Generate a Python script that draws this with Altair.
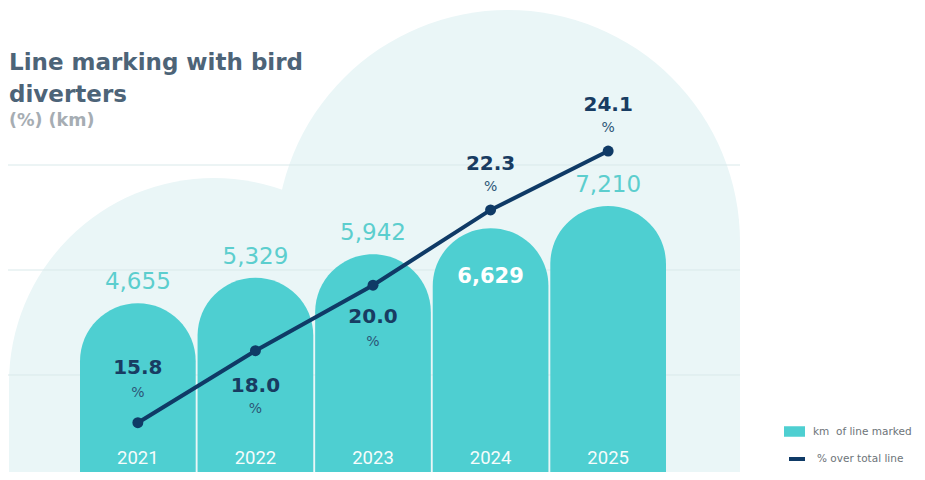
import altair as alt
import pandas as pd

# ---------------- data ----------------
years = ["2021", "2022", "2023", "2024", "2025"]
km_marked = [4655, 5329, 5942, 6629, 7210]
pct_over_total = [15.8, 18.0, 20.0, 22.3, 24.1]
km_series_name = "km\u00a0 of line marked"
pct_series_name = "% over total line"
title_line1 = "Line marking with bird"
title_line2 = "diverters"
subtitle_text = "(%) (km)"
pct_sign = "%"

# ---------------- styles ----------------
TEAL = "#4ecfd1"
KM_LABEL = "#5ccece"
NAVY = "#0f3a66"
PCT_LABEL = "#183c62"
PCT_SIGN = "#2c5576"
BG = "#eaf6f7"
GRID = "#d9e9ea"
TITLE = "#4d6478"
SUBTITLE = "#a6adb3"
LEGEND_TXT = "#6d7479"

W, H = 586, 464
KM_DOMAIN = [226, 12411]
PCT_DOMAIN = [14.293, 28.469]

km_inside_years = ["2024"]
km_outside_years = [y for y in years if y not in km_inside_years]
# vertical offsets (px) for the % labels: (number, sign)
pct_label_offsets = {
    "2021": (-55, -30),
    "2022": (35, 58),
    "2023": (32, 57),
    "2024": (-46, -23),
    "2025": (-46, -23),
}

df = pd.DataFrame({
    "year": years,
    "km": km_marked,
    "pct": pct_over_total,
    "km_series": [km_series_name] * len(years),
    "pct_series": [pct_series_name] * len(years),
})
deco = pd.DataFrame({"d": [0]})

x_enc = alt.X("year:O", scale=alt.Scale(paddingInner=0.016, paddingOuter=0), axis=None)
y_km = alt.Y("km:Q", scale=alt.Scale(domain=KM_DOMAIN, nice=False, zero=False), axis=None)
y_pct = alt.Y("pct:Q", scale=alt.Scale(domain=PCT_DOMAIN, nice=False, zero=False), axis=None)

base = alt.Chart(df)
dbase = alt.Chart(deco)

# ---------------- decorative background ----------------
bg_big = dbase.mark_circle(color=BG, opacity=1).encode(
    x=alt.value(428), y=alt.value(234), size=alt.value(464 * 464))
bg_left = dbase.mark_circle(color=BG, opacity=1).encode(
    x=alt.value(134), y=alt.value(375), size=alt.value(410 * 410))
bg_rect1 = dbase.mark_rect(color=BG).encode(
    x=alt.value(-71), x2=alt.value(660), y=alt.value(375), y2=alt.value(472))
bg_rect2 = dbase.mark_rect(color=BG).encode(
    x=alt.value(196), x2=alt.value(660), y=alt.value(234), y2=alt.value(375))
grid_layers = [
    dbase.mark_rule(color=GRID, strokeWidth=1).encode(
        x=alt.value(-72), x2=alt.value(660), y=alt.value(gy))
    for gy in (157, 262, 367)
]

# ---------------- title ----------------
t1 = dbase.mark_text(align="left", baseline="alphabetic", font="DejaVu Sans",
                     fontWeight="bold", fontSize=23, color=TITLE,
                     text=title_line1).encode(x=alt.value(-71), y=alt.value(62))
t2 = dbase.mark_text(align="left", baseline="alphabetic", font="DejaVu Sans",
                     fontWeight="bold", fontSize=23, color=TITLE,
                     text=title_line2).encode(x=alt.value(-71), y=alt.value(94))
t3 = dbase.mark_text(align="left", baseline="alphabetic", font="DejaVu Sans",
                     fontWeight="bold", fontSize=17.5, color=SUBTITLE,
                     text=subtitle_text).encode(x=alt.value(-71), y=alt.value(118))

# ---------------- bars ----------------
bars = base.mark_bar(cornerRadiusTopLeft=58, cornerRadiusTopRight=58).encode(
    x=x_enc,
    y=y_km,
    y2=alt.datum(0),
    color=alt.Color(
        "km_series:N",
        scale=alt.Scale(range=[TEAL]),
        legend=alt.Legend(
            title=None, orient="none", legendX=704, legendY=413, padding=0,
            symbolType="M-1,-0.5H1V0.5H-1Z", symbolSize=441, symbolStrokeWidth=0,
            symbolOpacity=1, labelFont="DejaVu Sans", labelFontSize=10.5,
            labelColor=LEGEND_TXT, labelOffset=8,
        ),
    ),
)

year_labels = base.mark_text(font="Roboto", fontSize=18.5, color="white",
                             baseline="middle", opacity=0.95).encode(
    x=x_enc, y=alt.value(450), text="year:N")

km_out = base.transform_filter(
    alt.FieldOneOfPredicate(field="year", oneOf=km_outside_years)
).mark_text(font="DejaVu Sans", fontSize=23, color=KM_LABEL, baseline="middle", dy=-21).encode(
    x=x_enc, y=y_km, text=alt.Text("km:Q", format=","))

km_in = base.transform_filter(
    alt.FieldOneOfPredicate(field="year", oneOf=km_inside_years)
).mark_text(font="DejaVu Sans", fontWeight="bold", fontSize=21, color="white",
            baseline="middle", dy=49).encode(
    x=x_enc, y=y_km, text=alt.Text("km:Q", format=","))

# ---------------- line ----------------
line = base.mark_line(strokeWidth=4).encode(
    x=x_enc,
    y=y_pct,
    stroke=alt.Stroke(
        "pct_series:N",
        scale=alt.Scale(range=[NAVY]),
        legend=alt.Legend(
            title=None, orient="none", legendX=707, legendY=441, padding=0,
            symbolType="stroke", symbolSize=256, symbolStrokeWidth=4,
            labelFont="DejaVu Sans", labelFontSize=10.5, labelColor=LEGEND_TXT,
            labelOffset=10,
        ),
    ),
)
points = base.mark_circle(size=120, opacity=1, color=NAVY).encode(x=x_enc, y=y_pct)

pct_layers = []
for yr, (dnum, dsign) in pct_label_offsets.items():
    sub = base.transform_filter(alt.datum.year == yr)
    pct_layers.append(
        sub.mark_text(font="DejaVu Sans", fontWeight="bold", fontSize=20,
                      color=PCT_LABEL, baseline="middle", dy=dnum).encode(
            x=x_enc, y=y_pct, text=alt.Text("pct:Q", format=".1f")))
    pct_layers.append(
        sub.mark_text(font="DejaVu Sans", fontSize=14, color=PCT_SIGN,
                      baseline="middle", dy=dsign, text=pct_sign).encode(
            x=x_enc, y=y_pct))

chart = alt.layer(
    bg_big, bg_left, bg_rect1, bg_rect2, *grid_layers,
    t1, t2, t3,
    bars, year_labels, km_out, km_in,
    line, points, *pct_layers,
).resolve_scale(y="independent").properties(
    width=W, height=H,
    autosize=alt.AutoSizeParams(type="none"),
    padding={"left": 72, "top": 0, "right": 251, "bottom": 0},
    background="white",
).configure_view(strokeWidth=0)

chart.save("out.html", embed_options={"renderer": "svg", "actions": False})
